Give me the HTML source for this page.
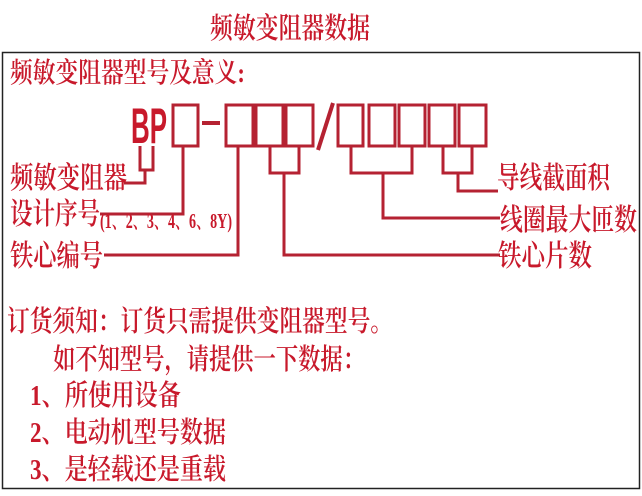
<!DOCTYPE html>
<html><head><meta charset="utf-8"><style>
html,body{margin:0;padding:0;background:#fff;width:642px;height:496px;overflow:hidden}
svg text{font-family:"Liberation Serif","Noto Serif CJK SC",serif;fill:#c8192b;font-weight:600}
</style></head><body>
<svg width="642" height="496" viewBox="0 0 642 496" xmlns="http://www.w3.org/2000/svg">
<rect x="2.5" y="52.5" width="637" height="436" fill="none" stroke="#222" stroke-width="1.5"/>
<g transform="translate(210,38) scale(1,1.25)"><text x="0" y="0" font-size="23" textLength="160" lengthAdjust="spacingAndGlyphs">频敏变阻器数据</text></g>
<g transform="translate(10,82) scale(1,1.15)"><text font-size="24" textLength="235" lengthAdjust="spacingAndGlyphs">频敏变阻器型号及意义:</text></g>

<g transform="translate(131,143) scale(1,1.2)"><text x="0" y="0" font-size="42" font-weight="700" style="font-family:'Liberation Sans',sans-serif" fill="#d42030" textLength="36" lengthAdjust="spacingAndGlyphs">BP</text></g>
<g fill="none" stroke="#b52232" stroke-width="3">
<rect x="173" y="105" width="25" height="41"/>
<rect x="226" y="105" width="27" height="41"/>
<rect x="256" y="105" width="27" height="41"/>
<rect x="286" y="105" width="27" height="41"/>
<rect x="338" y="105" width="25" height="41"/>
<rect x="369" y="105" width="26" height="41"/>
<rect x="399" y="105" width="26" height="41"/>
<rect x="429" y="105" width="26" height="41"/>
<rect x="459" y="105" width="27" height="41"/>
<line x1="202" y1="123" x2="220" y2="123" stroke-width="4"/>
<line x1="318" y1="150" x2="333" y2="103" stroke-width="4"/>
<polyline points="140,146 140,170 153,170 153,146"/>
<polyline points="145,170 145,183 124,183"/>
<polyline points="183,146 183,214 100,214"/>
<polyline points="238,146 238,255 104,255"/>
<polyline points="270,146 270,173 299,173 299,146"/>
<polyline points="284,173 284,255 500,255"/>
<polyline points="351,146 351,173 412,173 412,146"/>
<polyline points="383,173 383,218 500,218"/>
<polyline points="443,146 443,173 472,173 472,146"/>
<polyline points="458,173 458,191 498,191"/>
</g>
<g transform="translate(10,188) scale(1,1.3)"><text font-size="23" textLength="117" lengthAdjust="spacingAndGlyphs">频敏变阻器</text></g>
<g transform="translate(10,224) scale(1,1.3)"><text font-size="23" textLength="90" lengthAdjust="spacingAndGlyphs">设计序号</text></g>
<g transform="translate(100,228) scale(1,1.5)"><text font-size="14" font-weight="400" textLength="132" lengthAdjust="spacingAndGlyphs">(1、2、3、4、6、8Y)</text></g>
<g transform="translate(10,266) scale(1,1.3)"><text font-size="23" textLength="93" lengthAdjust="spacingAndGlyphs">铁心编号</text></g>
<g transform="translate(497,188) scale(1,1.3)"><text font-size="23" textLength="113" lengthAdjust="spacingAndGlyphs">导线截面积</text></g>
<g transform="translate(500,230) scale(1,1.3)"><text font-size="23" textLength="137" lengthAdjust="spacingAndGlyphs">线圈最大匝数</text></g>
<g transform="translate(498,266) scale(1,1.3)"><text font-size="23" textLength="94" lengthAdjust="spacingAndGlyphs">铁心片数</text></g>

<g transform="translate(7,331) scale(1,1.25)"><text font-size="23" textLength="386" lengthAdjust="spacingAndGlyphs">订货须知：订货只需提供变阻器型号。</text></g>
<g transform="translate(53,369) scale(1,1.25)"><text font-size="23" textLength="312" lengthAdjust="spacingAndGlyphs">如不知型号，请提供一下数据：</text></g>
<g transform="translate(30,405) scale(1,1.25)"><text font-size="23" textLength="151" lengthAdjust="spacingAndGlyphs">1、所使用设备</text></g>
<g transform="translate(30,442) scale(1,1.25)"><text font-size="23" textLength="196" lengthAdjust="spacingAndGlyphs">2、电动机型号数据</text></g>
<g transform="translate(30,479) scale(1,1.25)"><text font-size="23" textLength="196" lengthAdjust="spacingAndGlyphs">3、是轻载还是重载</text></g>
</svg>
</body></html>
